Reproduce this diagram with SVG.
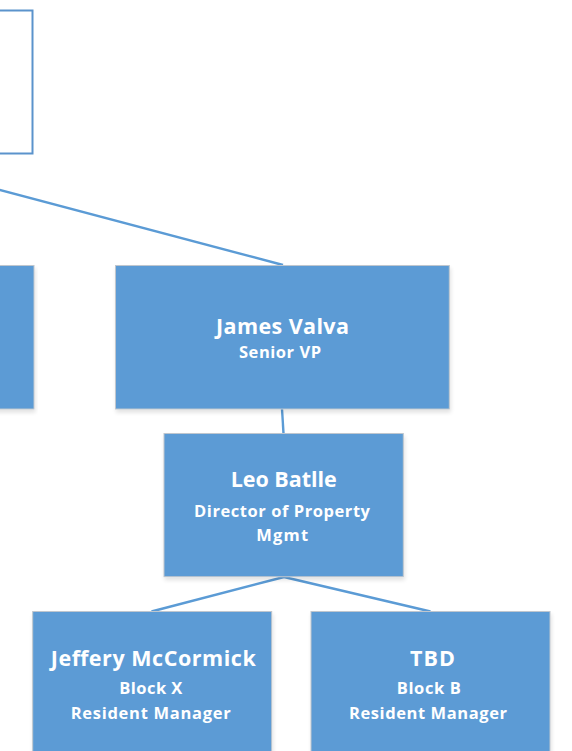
<svg xmlns="http://www.w3.org/2000/svg" width="572" height="751" viewBox="0 0 572 751">
  <style>
    .box { fill: #5B9BD5; stroke: #BFC6CE; stroke-width: 1; filter: url(#shadow); }
    .frame { fill: #FFFFFF; stroke: #5B93CC; stroke-width: 2; }
    .link { fill: none; stroke: #5B9BD5; stroke-width: 2.4; }
    text { font-family: "Open Sans", "Liberation Sans", sans-serif; font-weight: 700; fill: #FFFFFF; text-anchor: middle; }
    .name { font-size: 21.5px; }
    .role { font-size: 16.5px; }
  </style>
  <defs>
    <filter id="shadow" x="-5%" y="-5%" width="112%" height="115%">
      <feGaussianBlur in="SourceAlpha" stdDeviation="2"/>
      <feOffset dx="1" dy="3" result="b"/>
      <feComponentTransfer><feFuncA type="linear" slope="0.12"/></feComponentTransfer>
      <feMerge><feMergeNode/><feMergeNode in="SourceGraphic"/></feMerge>
    </filter>
  </defs>
  <rect width="572" height="751" fill="#FFFFFF"/>

  <!-- connectors -->
  <g id="connectors">
    <line class="link" x1="-2" y1="189.5" x2="283" y2="265"/>
    <line class="link" x1="282" y1="409" x2="283.5" y2="433.5"/>
    <line class="link" x1="284" y1="577" x2="151.5" y2="611.5"/>
    <line class="link" x1="284" y1="577" x2="430.5" y2="611.5"/>
  </g>

  <!-- top-level box (outlined) -->
  <g id="node-top">
    <rect class="frame" x="-10" y="10.5" width="42.5" height="143"/>
  </g>

  <!-- sibling box on the left -->
  <g id="node-left">
    <rect class="box" x="-10" y="265.5" width="44" height="143.5"/>
  </g>

  <g id="node-james">
    <rect class="box" x="115.5" y="265.5" width="333.8" height="143.5"/>
    <text class="name" x="282.5" y="334" textLength="133" lengthAdjust="spacing">James Valva</text>
    <text class="role" x="280" y="358.3" textLength="82" lengthAdjust="spacing">Senior VP</text>
  </g>

  <g id="node-leo">
    <rect class="box" x="164" y="433.5" width="239.3" height="143.2"/>
    <text class="name" x="283.7" y="487.3" textLength="106" lengthAdjust="spacing">Leo Batlle</text>
    <text class="role" x="282" y="516.7" textLength="176" lengthAdjust="spacing">Director of Property</text>
    <text class="role" x="282.2" y="540.7" textLength="52" lengthAdjust="spacing">Mgmt</text>
  </g>

  <g id="node-jeffery">
    <rect class="box" x="32.7" y="611.5" width="239" height="150"/>
    <text class="name" x="153.3" y="666" textLength="205" lengthAdjust="spacing">Jeffery McCormick</text>
    <text class="role" x="150.8" y="694" textLength="63" lengthAdjust="spacing">Block X</text>
    <text class="role" x="150.7" y="719" textLength="160" lengthAdjust="spacing">Resident Manager</text>
  </g>

  <g id="node-tbd">
    <rect class="box" x="311" y="611.5" width="239" height="150"/>
    <text class="name" x="432.5" y="666" textLength="45" lengthAdjust="spacing">TBD</text>
    <text class="role" x="428.8" y="694" textLength="64" lengthAdjust="spacing">Block B</text>
    <text class="role" x="428" y="719" textLength="158" lengthAdjust="spacing">Resident Manager</text>
  </g>
</svg>
